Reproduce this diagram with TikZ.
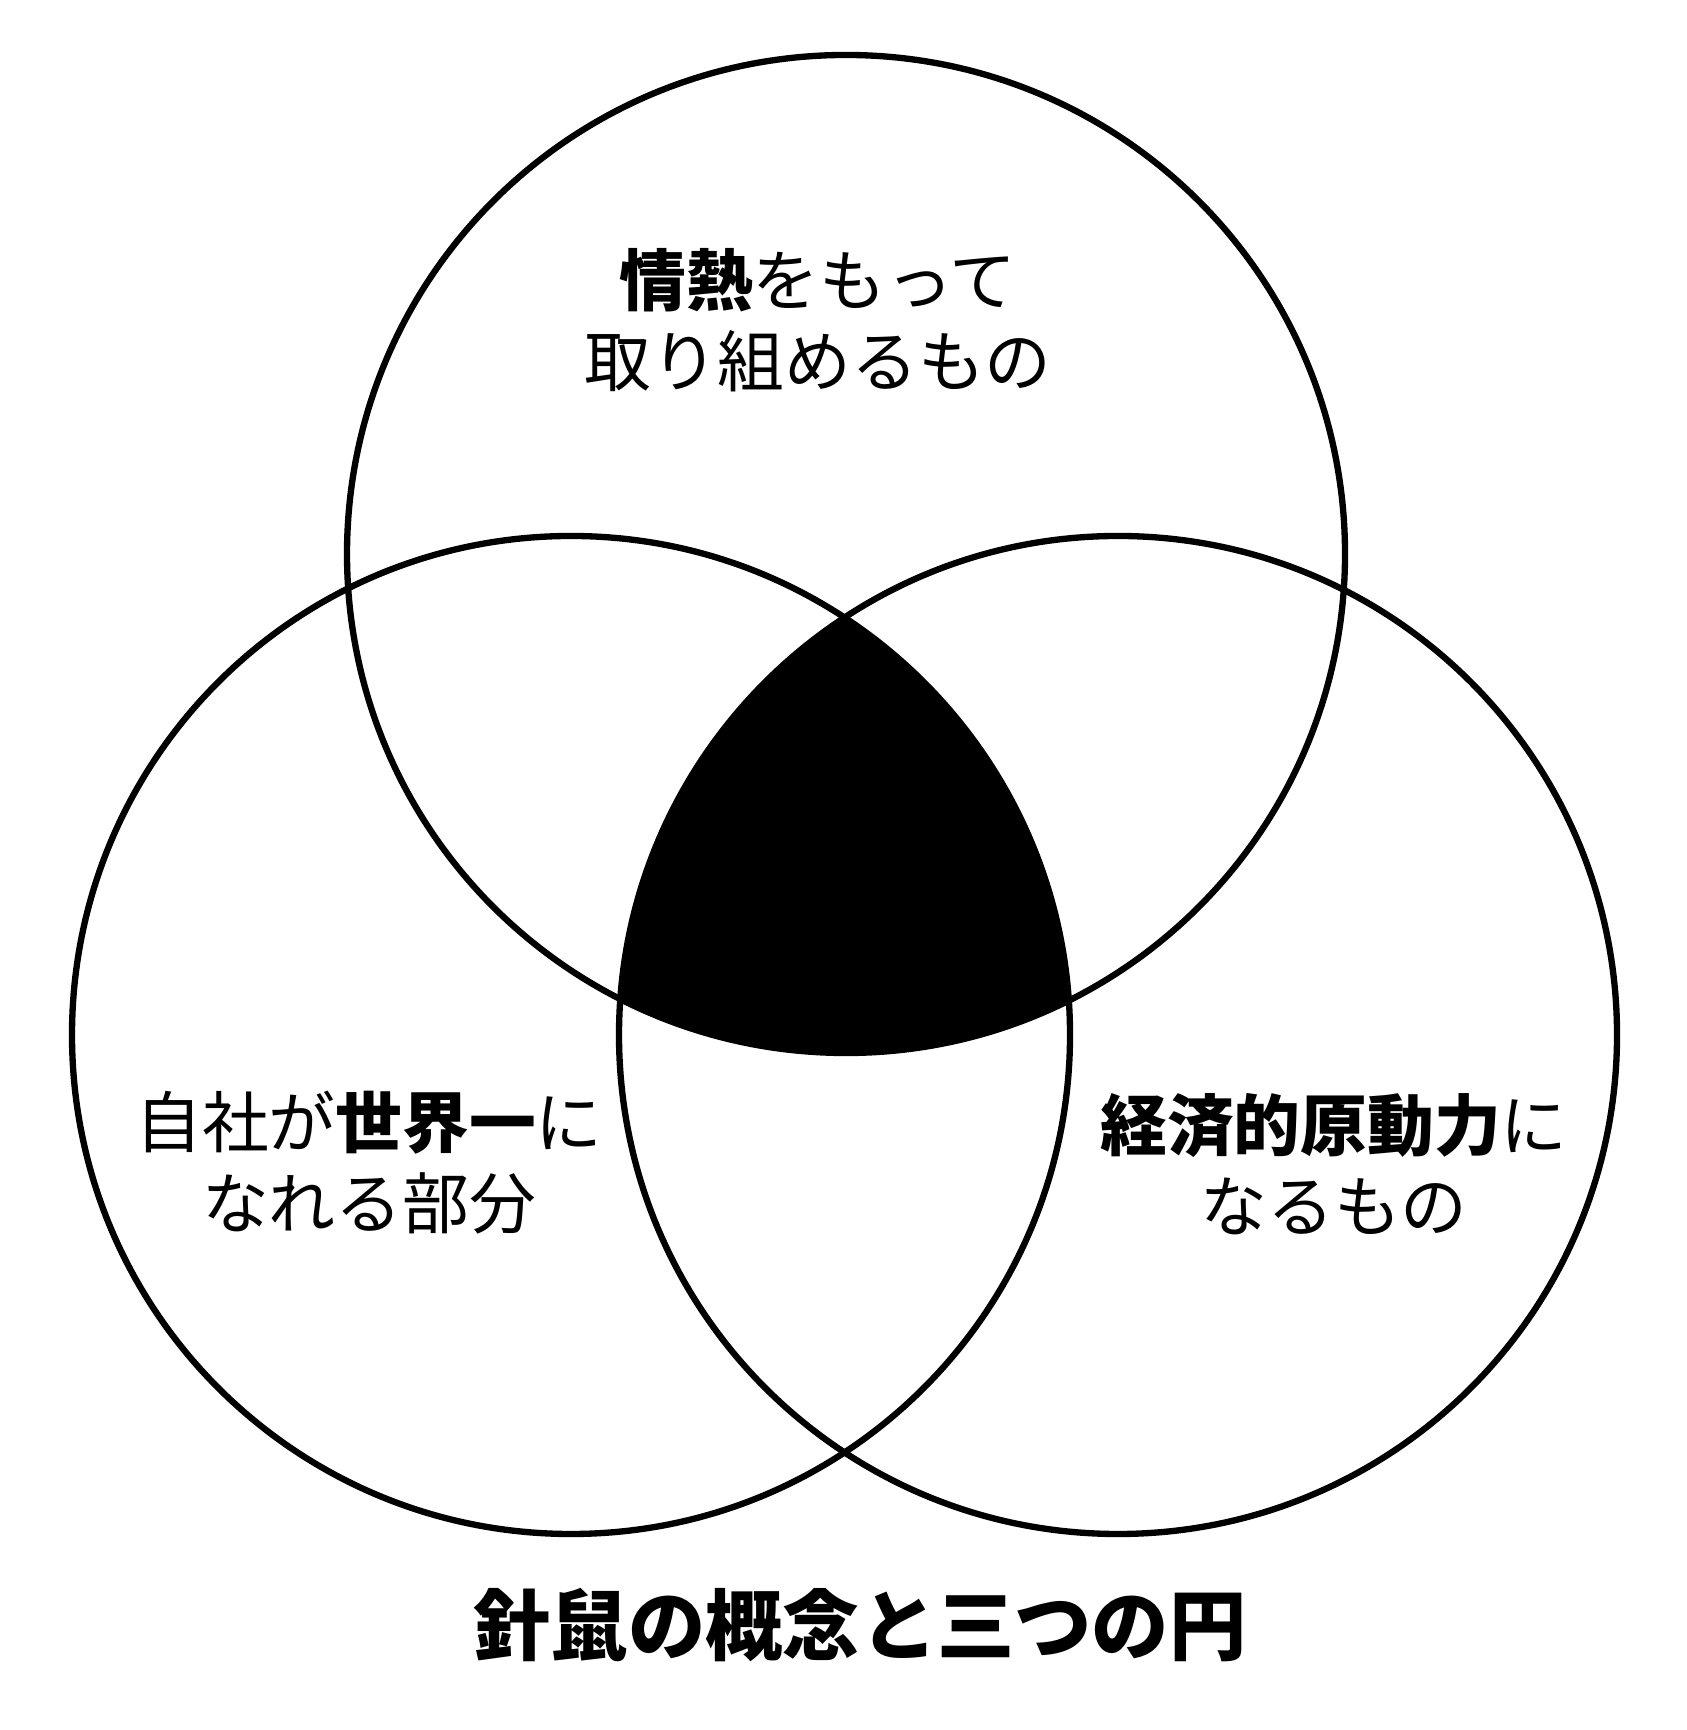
\documentclass[tikz,border=0pt]{standalone}
\usepackage{fontspec}
\newfontfamily\jp{Noto Sans CJK JP}
\usepackage{tikz}

\begin{document}
\begin{tikzpicture}[
    ring/.style={line width=1.8pt},
    lbl/.style={font=\jp\fontsize{19}{23}\selectfont, align=center, inner sep=0pt},
    ttl/.style={font=\jp\bfseries\fontsize{22}{26}\selectfont, inner sep=0pt}]
      \useasboundingbox (0,0) rectangle (16.87,17.30);
      \coordinate (T) at (8.46,11.76);
      \coordinate (L) at (5.71,6.95);
      \coordinate (R) at (11.18,6.95);
      \begin{scope}
        \clip (T) circle (4.99);
        \clip (L) circle (4.99);
        \fill (R) circle (4.99);
      \end{scope}
      \draw[ring] (T) circle (4.99);
      \draw[ring] (L) circle (4.99);
      \draw[ring] (R) circle (4.99);
      \node[lbl] (passion) at (8.18,14.10) {{\bfseries 情熱}をもって\\取り組めるもの};
      \node[lbl] (best) at (3.69,5.67) {自社が{\bfseries 世界一}に\\なれる部分};
      \node[lbl] (economy) at (13.34,5.66) {{\bfseries 経済的原動力}に\\なるもの};
      \node[ttl] (title) at (8.60,1.05) {針鼠の概念と三つの円};
    \end{tikzpicture}
\end{document}
